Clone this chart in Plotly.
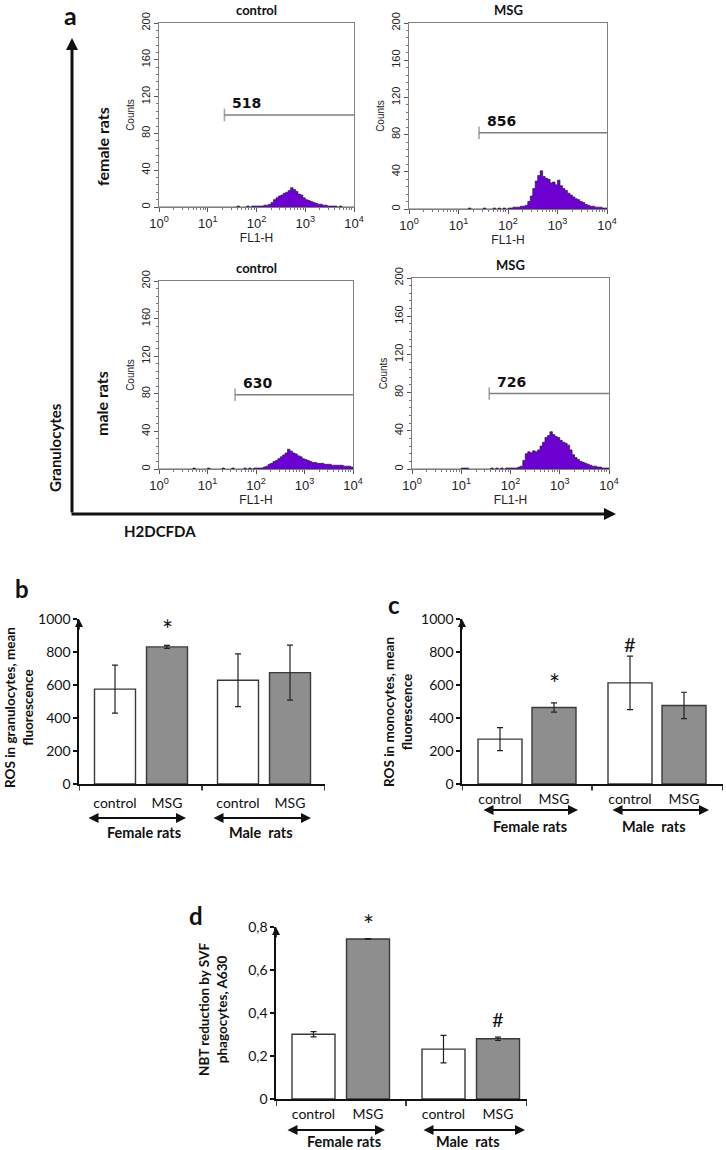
import numpy as np
import plotly.graph_objects as go

W, H = 726, 1150

# ---------------- data ----------------
hist_titles = ['control', 'MSG', 'control', 'MSG']
hist_rows = ['female rats', 'male rats']
# counts per FL1-H bin; bins are 0.05 decade wide from 10^0 to 10^4
counts_female_control = [0, 0, 0, 0, 0, 0, 0, 0, 0, 0,
                         0, 0, 0, 0, 0, 0, 0, 0, 0, 0,
                         0, 0, 0, 0, 0, 0, 0, 0, 0, 0,
                         0, 0, 1, 0, 0, 0, 1, 0, 1, 1,
                         1, 1, 1, 2, 2, 3, 5, 8, 10, 12,
                         13, 15, 16, 18, 21, 19, 17, 14, 13, 10,
                         8, 7, 6, 5, 4, 3, 3, 2, 2, 1,
                         1, 1, 1, 0, 1, 0, 0, 0, 0, 0,
                         0]
counts_female_msg = [0, 0, 0, 0, 0, 0, 0, 0, 0, 0,
                     0, 0, 0, 0, 0, 0, 0, 0, 0, 0,
                     0, 0, 0, 0, 1, 0, 0, 0, 0, 0,
                     1, 0, 0, 0, 1, 0, 1, 0, 1, 0,
                     1, 1, 2, 2, 2, 3, 3, 4, 8, 14,
                     22, 30, 36, 41, 35, 33, 32, 28, 29, 26,
                     31, 25, 22, 20, 17, 15, 13, 11, 10, 8,
                     7, 5, 4, 3, 3, 2, 2, 2, 1, 1,
                     1]
counts_male_control = [0, 0, 0, 0, 0, 0, 0, 0, 0, 0,
                       0, 0, 0, 0, 1, 0, 0, 0, 0, 0,
                       1, 0, 0, 0, 0, 0, 1, 0, 0, 0,
                       1, 0, 0, 0, 0, 1, 0, 1, 0, 1,
                       1, 1, 1, 2, 3, 5, 6, 8, 9, 11,
                       13, 15, 17, 21, 19, 17, 16, 14, 13, 11,
                       10, 9, 8, 7, 7, 6, 6, 6, 5, 5,
                       5, 4, 4, 4, 4, 4, 3, 3, 3, 2,
                       1]
counts_male_msg = [0, 0, 0, 0, 0, 0, 0, 0, 0, 0,
                   0, 0, 0, 0, 0, 0, 0, 0, 0, 0,
                   1, 1, 1, 0, 0, 0, 0, 0, 0, 0,
                   0, 0, 1, 0, 1, 0, 1, 0, 1, 1,
                   1, 1, 1, 2, 3, 9, 16, 18, 17, 19,
                   18, 20, 24, 28, 33, 35, 39, 36, 34, 33,
                   30, 28, 27, 25, 20, 15, 12, 10, 8, 7,
                   6, 5, 4, 3, 3, 2, 2, 1, 1, 1,
                   1]
hist_counts = [counts_female_control, counts_female_msg,
               counts_male_control, counts_male_msg]
gate_labels = ['518', '856', '630', '726']
gate_start = [22, 26, 37, 37]
gate_level = [100, 82, 79, 79]

bar_categories = ['control', 'MSG', 'control', 'MSG']
bar_groups = ['Female rats', 'Male  rats']
gran_means = [575, 831, 629, 675]
gran_err = [146, 9, 160, 167]
gran_marks = ['', '*', '', '']
mono_means = [272, 464, 613, 476]
mono_err = [70, 28, 162, 80]
mono_marks = ['', '*', '#', '']
nbt_means = [0.301, 0.744, 0.232, 0.280]
nbt_err = [0.012, 0.002, 0.064, 0.008]
nbt_marks = ['', '*', '', '#']

# ---------------- helpers ----------------
def PX(x):
    return x / W

def PY(y):
    return 1 - y / H

SANS = 'Liberation Sans'
CAL = 'Lato'

fig = go.Figure()
annotations = []
shapes = []
layout = {}

def ptext(x, y, text, size, family=CAL, angle=0, xanchor='center'):
    return dict(x=PX(x), y=PY(y), xref='paper', yref='paper', text=text,
                showarrow=False, textangle=angle, xanchor=xanchor,
                yanchor='middle',
                font=dict(family=family, size=size, color='#111111'))

# ---------------- panel a: histograms ----------------
channels = 10 ** (np.arange(len(counts_female_control)) * 0.05)
hist_dom = [((159, 354), (23, 207)), ((409, 607), (23, 209)),
            ((159, 353), (281, 469)), ((412, 609), (278, 469))]
minor_vals = [k * 10 ** e for e in range(4) for k in range(2, 10)]

for i in range(4):
    n = i + 1
    xa = 'x' if n == 1 else f'x{n}'
    ya = 'y' if n == 1 else f'y{n}'
    xk = 'xaxis' if n == 1 else f'xaxis{n}'
    yk = 'yaxis' if n == 1 else f'yaxis{n}'
    (x0, x1), (y0, y1) = hist_dom[i]
    fig.add_trace(go.Scatter(
        x=channels, y=hist_counts[i], mode='lines', line_shape='hv',
        line=dict(color='#222222', width=0.7), fill='tozeroy',
        fillcolor='#6c00d0', xaxis=xa, yaxis=ya, showlegend=False,
        hoverinfo='skip'))
    # gate marker
    fig.add_trace(go.Scatter(
        x=[gate_start[i], 10 ** 4], y=[gate_level[i], gate_level[i]],
        mode='lines+markers', line=dict(color='#7f7f7f', width=1.6),
        marker=dict(symbol='line-ns', size=[9, 0],
                    line=dict(color='#7f7f7f', width=1.6)),
        xaxis=xa, yaxis=ya, showlegend=False, hoverinfo='skip'))
    annotations.append(dict(
        x=np.log10(gate_start[i]), y=gate_level[i], xref=xa, yref=ya,
        text='<b>%s</b>' % gate_labels[i], showarrow=False, xanchor='left',
        yanchor='bottom', xshift=6, yshift=2,
        font=dict(family='DejaVu Sans', size=14, color='#111111'),
        ))
    layout[xk] = dict(
        domain=[PX(x0), PX(x1)], anchor=ya, type='log', range=[0, 4],
        automargin=False,
        tickvals=[1, 10, 100, 1000, 10000],
        ticktext=['10<sup>0</sup>', '10<sup>1</sup>', '10<sup>2</sup>',
                  '10<sup>3</sup>', '10<sup>4</sup>'],
        ticks='outside', ticklen=4, tickcolor='#555555',
        minor=dict(tickvals=minor_vals, ticks='outside', ticklen=2,
                   tickcolor='#777777'),
        showline=True, linecolor='#808080', linewidth=1, mirror=True,
        showgrid=False, zeroline=False,
        tickfont=dict(family=SANS, size=13, color='#222222'),
        title=dict(text='FL1-H', standoff=0,
                   font=dict(family=SANS, size=12, color='#222222')))
    layout[yk] = dict(
        domain=[PY(y1), PY(y0)], anchor=xa, range=[0, 200],
        automargin=False,
        tickvals=[0, 40, 80, 120, 160, 200], tickangle=-90,
        ticks='outside', ticklen=4, tickcolor='#555555',
        minor=dict(dtick=8, ticks='outside', ticklen=2, tickcolor='#777777'),
        showline=True, linecolor='#808080', linewidth=1, mirror=True,
        showgrid=False, zeroline=False,
        tickfont=dict(family=SANS, size=11, color='#222222'),
        title=dict(text='Counts', standoff=3,
                   font=dict(family=SANS, size=10, color='#222222')))
    annotations.append(ptext((x0 + x1) / 2, y0 - 13,
                             '<b>%s</b>' % hist_titles[i], 13))

# row labels and big axes of panel a
annotations += [
    ptext(102, 147, '<b>%s</b>' % hist_rows[0], 16, angle=-90),
    ptext(102, 404, '<b>%s</b>' % hist_rows[1], 16, angle=-90),
    ptext(55, 448, '<b>Granulocytes</b>', 15, angle=-90),
    ptext(122, 531, '<b>H2DCFDA</b>', 15, xanchor='left'),
    ptext(70, 15, '<b>a</b>', 25),
    # vertical arrow
    dict(x=PX(72), y=PY(38), xref='paper', yref='paper', ax=0, ay=476,
         axref='pixel', ayref='pixel', text='', showarrow=True,
         arrowhead=2, arrowsize=0.8, arrowwidth=3, arrowcolor='#111111',
         standoff=0),
    # horizontal arrow
    dict(x=PX(616), y=PY(514), xref='paper', yref='paper', ax=-546, ay=0,
         axref='pixel', ayref='pixel', text='', showarrow=True,
         arrowhead=2, arrowsize=0.8, arrowwidth=3, arrowcolor='#111111',
         standoff=0),
]

# ---------------- bar panels b, c, d ----------------
panels = [
    dict(n=5, means=gran_means, err=gran_err, marks=gran_marks,
         xdom=(79, 325), ydom=(619, 784), c0=115, sp=52, off=123 / 52,
         bw=41 / 52, div=202, ymax=1000, tickvals=[0, 200, 400, 600, 800, 1000],
         ticktext=['0', '200', '400', '600', '800', '1000'],
         standoff=6, arrows=((87, 186), (212, 311)), arrow_y=818,
         group_y=832, letter=('b', 22, 588),
         title='ROS in granulocytes, mean<br>fluorescence', title_xy=(19, 708),
         mark_shift=[0, 21, 0, 0]),
    dict(n=6, means=mono_means, err=mono_err, marks=mono_marks,
         xdom=(462, 723), ydom=(619, 784), c0=500, sp=54, off=130 / 54,
         bw=44 / 54, div=592, ymax=1000, tickvals=[0, 200, 400, 600, 800, 1000],
         ticktext=['0', '200', '400', '600', '800', '1000'],
         standoff=2, arrows=((482, 578), (611, 709)), arrow_y=810,
         group_y=826, letter=('c', 394, 604),
         title='ROS in monocytes, mean<br>fluorescence', title_xy=(398, 712),
         mark_shift=[0, 25, 12, 0]),
    dict(n=7, means=nbt_means, err=nbt_err, marks=nbt_marks,
         xdom=(276, 527), ydom=(927, 1099), c0=313.5, sp=54.5, off=130 / 54.5,
         bw=43 / 54.5, div=406, ymax=0.8, tickvals=[0, 0.2, 0.4, 0.6, 0.8],
         ticktext=['0', '0,2', '0,4', '0,6', '0,8'],
         standoff=2, arrows=((286, 385), (422, 525)), arrow_y=1130,
         group_y=1141, letter=('d', 196, 915),
         title='NBT reduction by SVF<br>phagocytes, A630', title_xy=(213, 1010),
         mark_shift=[0, 20, 0, 18]),
]

for p in panels:
    n = p['n']
    xa, ya = f'x{n}', f'y{n}'
    pos = [t + g * p['off'] for g in range(2) for t in range(2)]
    left = (p['xdom'][0] - p['c0']) / p['sp']
    right = (p['xdom'][1] - p['c0']) / p['sp']
    fig.add_trace(go.Bar(
        x=pos, y=p['means'], width=p['bw'],
        marker=dict(color=['#ffffff', '#8e8e8e', '#ffffff', '#8e8e8e'],
                    line=dict(color='#3a3a3a', width=1.4)),
        error_y=dict(type='data', array=p['err'], color='#222222',
                     thickness=1.2, width=3),
        xaxis=xa, yaxis=ya, showlegend=False, hoverinfo='skip'))
    layout[f'xaxis{n}'] = dict(
        domain=[PX(p['xdom'][0]), PX(p['xdom'][1])], anchor=ya,
        range=[left, right], tickvals=pos, ticktext=bar_categories,
        automargin=False,
        ticks='', ticklabelstandoff=p['standoff'],
        showline=True, linecolor='#111111', linewidth=1.6,
        showgrid=False, zeroline=False,
        tickfont=dict(family=CAL, size=14, color='#111111'))
    layout[f'yaxis{n}'] = dict(
        domain=[PY(p['ydom'][1]), PY(p['ydom'][0])], anchor=xa,
        range=[0, p['ymax']], tickvals=p['tickvals'], ticktext=p['ticktext'],
        automargin=False,
        ticks='outside', ticklen=4, tickcolor='#111111', tickwidth=1.2,
        showline=True, linecolor='#111111', linewidth=1.6,
        showgrid=False, zeroline=False,
        tickfont=dict(family=CAL, size=14, color='#111111'))
    # x-axis tick marks at group boundaries
    for xv in (left, (p['div'] - p['c0']) / p['sp'], right):
        shapes.append(dict(type='line', xref=xa, yref=f'{ya} domain',
                           x0=xv, x1=xv, y0=0, y1=-0.04,
                           line=dict(color='#111111', width=1.6)))
    # y-axis arrow head
    annotations.append(dict(x=left, y=p['ymax'], xref=xa, yref=ya, ax=0, ay=12,
                            text='', showarrow=True, arrowhead=2, arrowsize=1,
                            arrowwidth=1.6, arrowcolor='#111111', standoff=0))
    # significance marks
    for k in range(4):
        if p['marks'][k]:
            star = p['marks'][k] == '*'
            annotations.append(dict(
                x=pos[k], y=p['means'][k] + p['err'][k], xref=xa, yref=ya,
                text=p['marks'][k], showarrow=False, xanchor='center',
                yanchor='middle',
                yshift=p['mark_shift'][k] - (6 if star else 0),
                font=dict(family=CAL, size=26 if star else 20,
                          color='#111111')))
    # group arrows and labels
    for g in range(2):
        a0, a1 = p['arrows'][g]
        annotations.append(dict(
            x=PX(a1), y=PY(p['arrow_y']), xref='paper', yref='paper',
            ax=-(a1 - a0), ay=0, axref='pixel', ayref='pixel', text='',
            showarrow=True, arrowhead=2, startarrowhead=2, arrowside='end+start',
            arrowsize=1, startarrowsize=1, arrowwidth=2, arrowcolor='#111111',
            standoff=0, startstandoff=0))
        annotations.append(dict(
            x=(pos[2 * g] + pos[2 * g + 1]) / 2, y=PY(p['group_y']),
            xref=xa, yref='paper', text='<b>%s</b>' % bar_groups[g],
            showarrow=False, xanchor='center', yanchor='middle',
            xshift=3 if g == 0 else -3,
            font=dict(family=CAL, size=14.5, color='#111111')))
    letter, lx, ly = p['letter']
    annotations.append(ptext(lx, ly, '<b>%s</b>' % letter, 24))
    tx, ty = p['title_xy']
    annotations.append(ptext(tx, ty, '<b>%s</b>' % p['title'], 13.5, angle=-90))

fig.update_layout(
    width=W, height=H, margin=dict(l=0, r=0, t=0, b=0),
    paper_bgcolor='white', plot_bgcolor='white',
    annotations=annotations, shapes=shapes, bargap=0,
    **layout)

# remove the default page margin so the figure fills the window exactly
fig.write_html('out.html',
               config={'displayModeBar': False, 'staticPlot': True},
               post_script="document.body.style.margin='0';"
                           "document.body.style.overflow='hidden';")
